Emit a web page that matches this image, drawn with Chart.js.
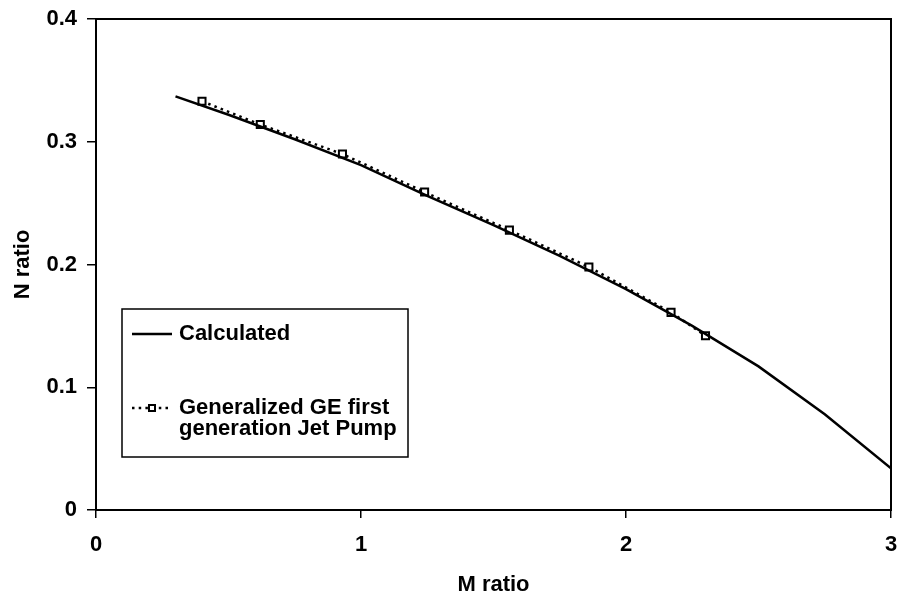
<!DOCTYPE html>
<html>
<head>
<meta charset="utf-8">
<script src="https://cdn.jsdelivr.net/npm/chart.js@4/dist/chart.umd.min.js"></script>
<style>
  html, body { margin: 0; padding: 0; background: #fff; }
  #wrap { width: 901px; height: 598px; }
</style>
</head>
<body>
<div id="wrap"><canvas id="chart" width="901" height="598"></canvas></div>
<script>
// Calculated curve
const calcM = [0.3, 0.5, 0.75, 1.0, 1.25, 1.5, 1.75, 2.0, 2.25, 2.5, 2.75, 3.0];
const calcN = [0.337, 0.322, 0.302, 0.281, 0.256, 0.232, 0.207, 0.180, 0.150, 0.117, 0.078, 0.034];

// Generalized GE first generation Jet Pump
const geM = [0.40, 0.62, 0.93, 1.24, 1.56, 1.86, 2.17, 2.30];
const geN = [0.333, 0.314, 0.290, 0.259, 0.228, 0.198, 0.161, 0.142];

const xTicks = [0, 1, 2, 3];
const yTicks = [0, 0.1, 0.2, 0.3, 0.4];

const FONT = { family: "'Liberation Sans', Arial, sans-serif", size: 22, weight: 'bold' };

const toPoints = (xs, ys) => xs.map((x, i) => ({ x, y: ys[i] }));

// frame around the plot area (Excel style)
const frame = {
  id: 'frame',
  afterDatasetsDraw(chart) {
    const { ctx, chartArea: a } = chart;
    ctx.save();
    ctx.strokeStyle = '#000';
    ctx.lineWidth = 2;
    ctx.strokeRect(a.left, a.top, a.right - a.left, a.bottom - a.top);
    ctx.restore();
  }
};

// boxed legend sitting inside the plot
const boxLegend = {
  id: 'boxLegend',
  afterDraw(chart) {
    const ctx = chart.ctx;
    const ds = chart.data.datasets;
    ctx.save();
    ctx.fillStyle = '#fff';
    ctx.fillRect(122, 309, 286, 148);
    ctx.strokeStyle = '#000';
    ctx.lineWidth = 1.5;
    ctx.strokeRect(122, 309, 286, 148);

    const rows = [334, 408];
    ctx.font = `${FONT.weight} ${FONT.size}px ${FONT.family}`;
    ctx.textBaseline = 'middle';
    ctx.fillStyle = '#000';
    ds.forEach((d, i) => {
      const y = rows[i];
      ctx.save();
      ctx.strokeStyle = d.borderColor;
      ctx.lineWidth = d.borderWidth;
      ctx.setLineDash(d.borderDash || []);
      ctx.beginPath();
      ctx.moveTo(132, y);
      ctx.lineTo(172, y);
      ctx.stroke();
      ctx.restore();
      if (d.pointRadius > 0) {
        ctx.save();
        ctx.fillStyle = '#fff';
        ctx.strokeStyle = '#000';
        ctx.lineWidth = 2;
        ctx.fillRect(149, y - 3, 6, 6);
        ctx.strokeRect(149, y - 3, 6, 6);
        ctx.restore();
      }
      const lines = Array.isArray(d.label) ? d.label : [d.label];
      lines.forEach((t, j) => ctx.fillText(t, 179, y + j * 21));
    });
    ctx.restore();
  }
};

new Chart(document.getElementById('chart'), {
  type: 'line',
  data: {
    datasets: [
      {
        label: 'Calculated',
        data: toPoints(calcM, calcN),
        borderColor: '#000',
        borderWidth: 2.5,
        pointRadius: 0,
        tension: 0,
        fill: false
      },
      {
        label: ['Generalized GE first', 'generation Jet Pump'],
        data: toPoints(geM, geN),
        borderColor: '#000',
        borderWidth: 2.5,
        borderDash: [2.5, 4.2],
        pointStyle: 'rect',
        pointRadius: 5,
        pointBorderWidth: 2,
        pointBorderColor: '#000',
        pointBackgroundColor: '#fff',
        tension: 0,
        fill: false
      }
    ]
  },
  options: {
    responsive: false,
    animation: false,
    layout: { padding: { left: 0, right: 10, top: 19, bottom: 0 } },
    plugins: { legend: { display: false }, tooltip: { enabled: false } },
    scales: {
      x: {
        type: 'linear',
        min: 0,
        max: 3,
        afterFit: (s) => { s.height = 88; s.paddingLeft = 0; s.paddingRight = 0; },
        afterBuildTicks: (s) => { s.ticks = xTicks.map(v => ({ value: v })); },
        ticks: { color: '#000', font: FONT, padding: 14, maxRotation: 0 },
        grid: { display: true, drawOnChartArea: false, drawTicks: true, tickLength: 8, color: '#000', lineWidth: 1.5 },
        border: { display: false },
        title: { display: true, text: 'M ratio', color: '#000', font: FONT, padding: { top: 0, bottom: 0 } }
      },
      y: {
        type: 'linear',
        min: 0,
        max: 0.4,
        afterFit: (s) => { s.width = 96; s.paddingTop = 0; s.paddingBottom = 0; },
        afterBuildTicks: (s) => { s.ticks = yTicks.map(v => ({ value: v })); },
        ticks: { color: '#000', font: FONT, padding: 10, callback: (v) => String(Math.round(v * 10) / 10) },
        grid: { display: true, drawOnChartArea: false, drawTicks: true, tickLength: 9, color: '#000', lineWidth: 1.5 },
        border: { display: false },
        title: { display: true, text: 'N ratio', color: '#000', font: FONT, padding: { top: 10, bottom: 0 } }
      }
    }
  },
  plugins: [frame, boxLegend]
});
</script>
</body>
</html>
